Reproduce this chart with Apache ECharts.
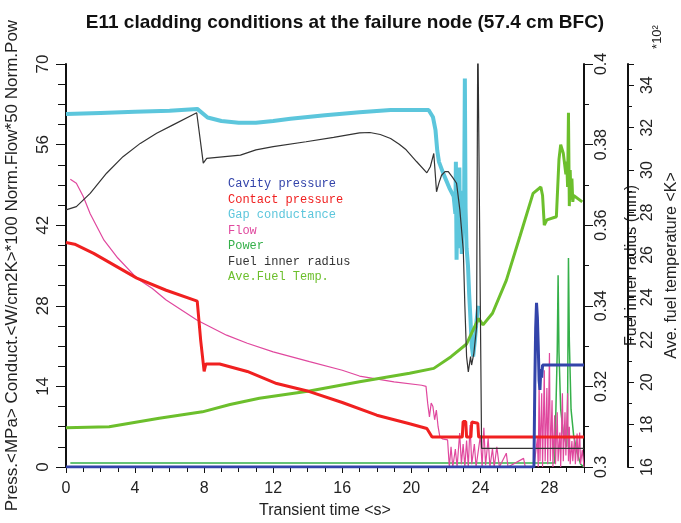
<!DOCTYPE html>
<html><head><meta charset="utf-8">
<script src="https://cdn.jsdelivr.net/npm/echarts@6/dist/echarts.min.js"></script>
<style>html,body{margin:0;padding:0;background:#fff}#c{width:681px;height:523px}</style>
</head><body><div id="c"></div>
<script>
const chartTitle = 'E11 cladding conditions at the failure node (57.4 cm BFC)';
const xName = 'Transient time <s>';
const leftName = 'Press.<MPa> Conduct.<W/cm2K>*100 Norm.Flow*50 Norm.Pow';
const radiusName = 'Fuel inner radius (mm)';
const tempName = 'Ave. fuel temperature <K>';
const tempScaleNote = '*10\u00B2';
const seriesNames = ['Cavity pressure','Contact pressure','Gap conductance','Flow','Power','Fuel inner radius','Ave.Fuel Temp.'];

// [time s, value]
const cavityPressure = [[0,0],[27.1,0],[27.15,14],[27.2,24],[27.25,28.5],[27.3,26],[27.35,21],[27.4,15],[27.45,13.4],[27.5,17],[27.55,15.5],[27.6,17.7],[30,17.7]];
const contactPressure = [[0,39],[0.5,38.7],[1.6,37.1],[4.1,32.8],[5.8,30.7],[7.6,28.8],[7.8,22],[8.0,16.6],[8.1,17.9],[8.9,17.9],[10.5,16.6],[12.2,14.5],[14.1,13.1],[16.0,11.2],[18.0,9.0],[19.9,7.5],[20.9,6.7],[21.2,5.2],[22.95,5.2],[23.0,7.9],[23.15,7.9],[23.2,5.2],[23.45,5.2],[23.5,7.8],[23.85,7.6],[23.9,5.2],[30,5.2]];
const gapConductance = [[0,61.3],[2,61.5],[4,61.7],[6,61.9],[7.6,62.2],[8.2,60.7],[9,60.1],[10,59.8],[11,59.8],[12,60.1],[13,60.5],[15,61.1],[17,61.6],[18.8,62.0],[21,62.0],[21.25,60.8],[21.4,58.5],[21.5,55],[21.6,53],[21.85,51],[22.2,48.5],[22.45,47],[22.55,44],[22.58,53],[22.62,36],[22.68,50],[22.72,38],[22.78,52],[22.82,40],[22.88,48],[22.92,37],[22.98,46],[23.05,42],[23.1,67.5],[23.14,45],[23.2,38],[23.28,35],[23.35,30],[23.42,26],[23.5,21],[23.58,19.2],[23.68,22],[23.78,25.5],[23.88,28]];
const flow = [[0.25,50],[0.6,49.3],[1.0,47],[1.4,44],[2.2,39.4],[3,36.3],[4.1,32.8],[5,31],[5.8,29.0],[7.6,25.5],[9.3,22.9],[10.5,21.5],[12,20],[14.1,18.3],[16,16.8],[17,15.8],[19,14.8],[20.6,14.2],[20.85,14.0],[20.95,11],[21.05,8.7],[21.15,11.1],[21.25,10.5],[21.35,8.2],[21.45,9.9],[21.55,7],[21.65,5.3],[21.8,4.9],[22.1,4.7],[22.2,0],[22.3,3.5],[22.4,0],[22.55,3.1],[22.65,0],[22.8,5.9],[22.9,0.5],[23.0,4],[23.1,0],[23.2,4.6],[23.3,0],[23.4,7.3],[23.5,0.5],[23.65,4],[23.75,0],[24.0,5.5],[24.1,0],[24.2,6.8],[24.3,0.3],[24.45,5],[24.55,0],[24.7,3.2],[24.8,0],[24.95,3.5],[25.1,0],[25.5,2.4],[25.6,0],[26.5,1.5],[26.6,0],[27.1,0],[27.3,5],[27.35,0],[27.4,14.6],[27.45,1],[27.55,12.8],[27.6,0],[27.7,16.8],[27.75,1],[27.85,13.7],[27.9,0.5],[28.0,19.8],[28.05,1],[28.15,11.6],[28.2,0],[28.3,9],[28.35,0.5],[28.45,9.5],[28.5,1],[28.6,6],[28.65,0],[28.75,12.8],[28.8,1],[28.9,9.5],[28.95,2],[29.05,12.8],[29.1,1],[29.15,7],[29.2,0.5],[29.3,4.5],[29.35,1],[29.45,5],[29.5,0.5],[29.6,5.8],[29.65,1],[29.75,6],[29.8,0.5],[29.9,3],[30,0]];
const power = [[0.25,0.7],[28.3,0.7],[28.45,20],[28.5,33.3],[28.55,20],[28.65,10],[28.8,6],[29.0,3.5],[29.05,10],[29.1,36.3],[29.15,22],[29.25,10],[29.4,5.5],[29.6,2.5],[29.8,0.5],[30,0]];
const fuelInnerRadius = [[0,0.3638],[0.6,0.3646],[1.4,0.3679],[2.35,0.3729],[3.3,0.377],[4.3,0.3803],[5.25,0.3828],[6.2,0.3849],[7.57,0.3879],[7.95,0.3754],[8.05,0.3752],[8.15,0.3766],[10.1,0.3774],[11,0.3787],[12,0.3795],[13.9,0.3807],[15.5,0.3818],[17,0.3829],[17.6,0.383],[18.2,0.3825],[18.8,0.3815],[19.3,0.3801],[19.7,0.3787],[20.3,0.3758],[20.9,0.373],[21.1,0.3745],[21.3,0.3778],[21.46,0.3683],[21.6,0.3705],[21.75,0.3724],[21.95,0.3733],[22.14,0.3733],[22.4,0.3718],[22.62,0.3704],[22.81,0.3638],[23.01,0.3538],[23.1,0.34],[23.2,0.3274],[23.3,0.3236],[23.43,0.3274],[23.49,0.3253],[23.62,0.3282],[23.78,0.3348],[23.85,0.41],[23.95,0.41],[24.07,0.3046],[30,0.3046]];
const aveFuelTemp = [[0,17.85],[2.5,17.9],[5.4,18.3],[7.9,18.6],[9.5,18.95],[11.2,19.24],[14.1,19.58],[17,20.02],[19.9,20.42],[21.3,20.65],[22.3,21.2],[23.2,21.8],[23.6,22.5],[23.9,23.0],[24.15,22.7],[24.7,23.25],[25.5,24.8],[26.3,26.9],[27.05,28.9],[27.5,29.2],[27.6,28.8],[27.7,27.4],[27.85,27.65],[28.4,27.8],[28.55,30.5],[28.65,31.2],[28.8,30.8],[28.95,29.8],[29.0,30.4],[29.05,29.2],[29.1,32.7],[29.15,28.3],[29.2,30],[29.25,28.6],[29.3,29.6],[29.35,28.5],[29.4,28.8],[29.9,28.5]];

const xTicks = {min:0, max:30, interval:4};
const leftTicks = {min:0, max:70, interval:14};
const radiusTicks = {min:0.3, max:0.4, interval:0.02};
const tempTicks = {min:16, max:35, interval:2};

const colors = ['#3344aa','#f02020','#5cc6dc','#e0489e','#35b04a','#333333','#6cbf2c'];
const widths = [3,3,4,1.2,1.5,1.2,3];
const dataSets = [cavityPressure, contactPressure, gapConductance, flow, power, fuelInnerRadius, aveFuelTemp];
const axisIdx = [0,0,0,0,0,1,2];
const zOrder = [9,6,4,3,2,7,5];

const FONT = 'Liberation Sans';
const ink = '#111';
function yBase(extra){
  return Object.assign({
    type:'value', splitLine:{show:false},
    axisLine:{show:true, lineStyle:{color:ink, width:2}},
    axisTick:{show:true, length:10, lineStyle:{color:ink, width:1}},
    minorTick:{show:true, length:7, lineStyle:{color:ink, width:1}},
    axisLabel:{rotate:90, fontSize:16, color:'#222', fontFamily:FONT},
    nameLocation:'middle', nameRotate:90,
    nameTextStyle:{fontSize:16, color:'#222', fontFamily:FONT}
  }, extra);
}

const chart = echarts.init(document.getElementById('c'), null, {renderer:'canvas'});
chart.setOption({
  animation:false,
  backgroundColor:'#fff',
  title:{text:chartTitle, left:340, top:8, textAlign:'center',
    textStyle:{fontSize:19, fontWeight:'bold', color:'#111', fontFamily:FONT}},
  legend:{orient:'vertical', left:218, top:173, icon:'none', itemWidth:0, itemHeight:0, itemGap:3.5,
    selectedMode:false,
    textStyle:{fontFamily:'Liberation Mono', fontSize:12},
    data: seriesNames.map((n,i)=>({name:n, textStyle:{color:colors[i]}}))},
  grid:{left:66, right:97, top:64, bottom:56, containLabel:false, outerBoundsMode:'none'},
  xAxis:{type:'value', min:xTicks.min, max:xTicks.max, interval:xTicks.interval,
    splitLine:{show:false},
    axisLine:{lineStyle:{color:ink, width:2}},
    axisTick:{length:6, lineStyle:{color:ink}},
    minorTick:{show:true, splitNumber:4, length:5, lineStyle:{color:ink}},
    axisLabel:{fontSize:16, color:'#222', margin:14, fontFamily:FONT, showMaxLabel:false},
    name:xName, nameLocation:'middle', nameGap:36,
    nameTextStyle:{fontSize:16, color:'#222', fontFamily:FONT}},
  yAxis:[
    yBase({position:'left', min:leftTicks.min, max:leftTicks.max, interval:leftTicks.interval,
      minorTick:{show:true, splitNumber:4, length:8, lineStyle:{color:ink}},
      axisLabel:{rotate:90, fontSize:17, color:'#222', fontFamily:FONT, margin:14},
      name:leftName, nameGap:45, nameTextStyle:{fontSize:17, color:'#222', fontFamily:FONT}}),
    yBase({position:'right', min:radiusTicks.min, max:radiusTicks.max, interval:radiusTicks.interval,
      axisTick:{show:true, length:9, lineStyle:{color:ink}},
      minorTick:{show:true, splitNumber:2, length:5, lineStyle:{color:ink}},
      axisLabel:{rotate:90, fontSize:16, color:'#222', fontFamily:FONT, margin:10,
        formatter:v=>String(+v.toFixed(2))},
      name:radiusName, nameGap:40}),
    yBase({position:'right', offset:44, min:tempTicks.min, max:tempTicks.max, interval:tempTicks.interval,
      axisTick:{show:true, length:6, lineStyle:{color:ink}},
      minorTick:{show:true, splitNumber:2, length:4, lineStyle:{color:ink}},
      axisLabel:{rotate:90, fontSize:16, color:'#222', fontFamily:FONT, margin:12, showMaxLabel:false},
      name:tempName, nameGap:36})
  ],
  graphic:[{type:'text', x:657, y:37, rotation:Math.PI/2,
    style:{text:tempScaleNote, fontSize:13, fill:'#222', fontFamily:FONT, align:'center', verticalAlign:'middle'}}],
  series: seriesNames.map((n,i)=>({
    name:n, type:'line', data:dataSets[i], yAxisIndex:axisIdx[i], showSymbol:false, symbol:'none',
    clip:true, z:zOrder[i],
    lineStyle:{color:colors[i], width:widths[i]}, itemStyle:{color:colors[i]}
  }))
});
</script></body></html>
